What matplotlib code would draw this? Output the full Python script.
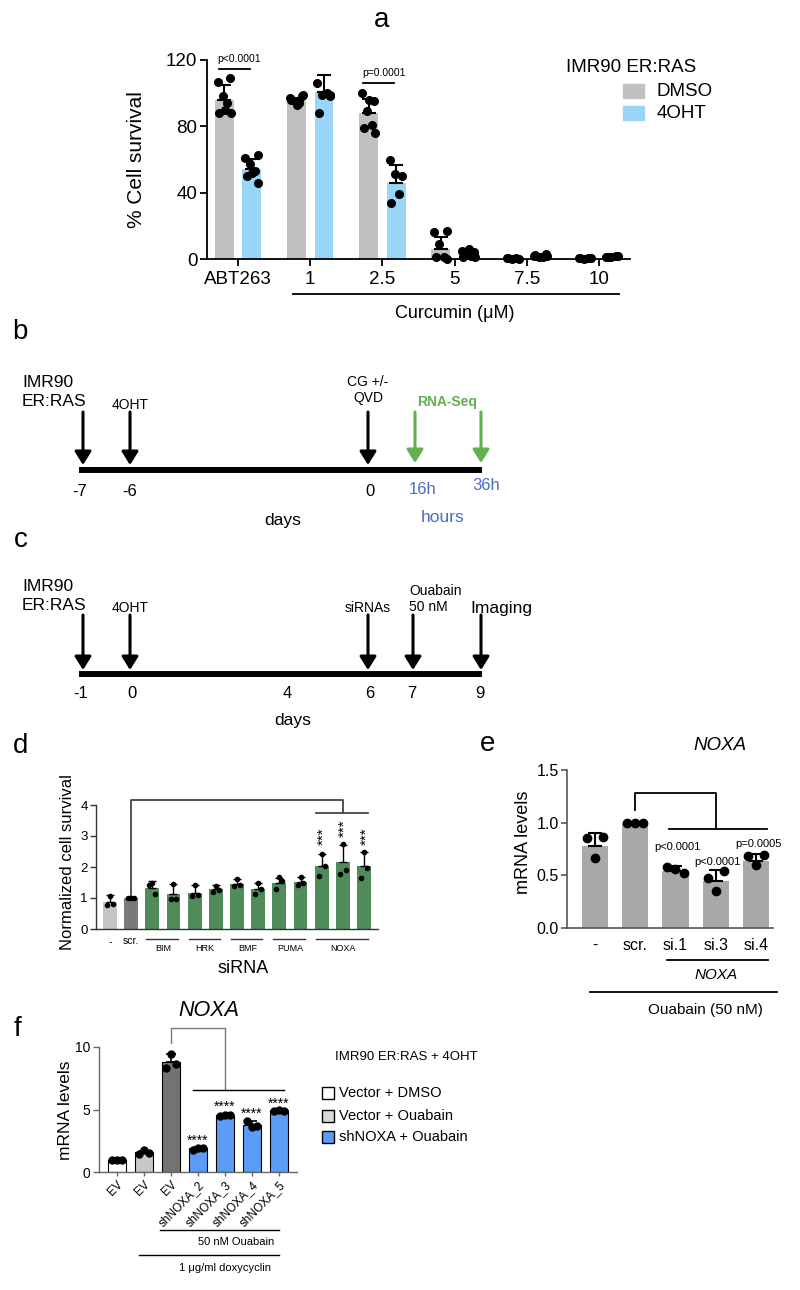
import matplotlib
matplotlib.use('Agg')
import matplotlib.pyplot as plt
from matplotlib.patches import Rectangle
import numpy as np

plt.rcParams['font.family'] = ['Liberation Sans', 'DejaVu Sans']

# ---------------- data ----------------
# panel a
a_groups = ['ABT263', '1', '2.5', '5', '7.5', '10']
a_dmso_mean = [96, 95.5, 88, 6, 0.5, 0.5]
a_dmso_sd = [9, 1.5, 8.5, 7, 0.3, 0.3]
a_4oht_mean = [54, 101, 46, 3, 2, 1.5]
a_4oht_sd = [6.5, 10, 10.5, 2, 0.8, 0.5]
a_dmso_pts = [[107, 109, 98, 94, 88, 88, 90], [97, 98, 95, 94, 96, 99, 93],
              [100, 95, 89, 81, 79, 76, 96], [16, 17, 9, 1, 1, 0],
              [0.5, 0.3, 0.2, 0.8, 0.4], [0.4, 0.6, 0.3, 0.5, 0.7]]
a_4oht_pts = [[61, 63, 57, 53, 50, 46, 52], [106, 99, 99, 100, 88, 98],
              [60, 50, 51, 39, 34], [5, 4, 3, 2, 1, 1, 6],
              [2, 3, 1.5, 1, 2.5, 2], [1.5, 2, 1, 2, 1.5]]
a_pvals = ['p<0.0001', None, 'p=0.0001', None, None, None]

# panel b timeline
b_ticks = ['-7', '-6', '0', '16h', '36h']
b_events = ['IMR90\nER:RAS', '4OHT', 'CG +/-\nQVD', '', '']

# panel c timeline
c_ticks = ['-1', '0', '4', '6', '7', '9']
c_events = ['IMR90\nER:RAS', '4OHT', '', 'siRNAs', 'Ouabain\n50 nM', 'Imaging']

# panel d
d_labels = ['-', 'scr.', 'BIM', 'BIM', 'HRK', 'HRK', 'BMF', 'BMF',
            'PUMA', 'PUMA', 'NOXA', 'NOXA', 'NOXA']
d_means = [0.87, 1.0, 1.33, 1.12, 1.17, 1.28, 1.46, 1.30, 1.48, 1.51, 2.04, 2.15, 2.03]
d_sd = [0.22, 0.0, 0.21, 0.34, 0.24, 0.13, 0.16, 0.20, 0.18, 0.16, 0.39, 0.57, 0.46]
d_pts = [[0.78, 0.82, 1.05], [1, 1, 1], [1.43, 1.13, 1.5], [0.97, 0.97, 1.46],
         [1.05, 1.1, 1.41], [1.2, 1.27, 1.4], [1.38, 1.42, 1.6], [1.13, 1.29, 1.48],
         [1.3, 1.56, 1.67], [1.41, 1.48, 1.67], [1.72, 2.02, 2.42], [1.78, 1.89, 2.74],
         [1.65, 1.97, 2.5]]
d_groups = ['BIM', 'HRK', 'BMF', 'PUMA', 'NOXA']

# panel e
e_labels = ['-', 'scr.', 'si.1', 'si.3', 'si.4']
e_means = [0.78, 1.0, 0.54, 0.45, 0.64]
e_sd = [0.12, 0.0, 0.05, 0.10, 0.06]
e_pts = [[0.85, 0.86, 0.66], [1, 1, 1], [0.58, 0.52, 0.56], [0.47, 0.54, 0.35], [0.68, 0.69, 0.60]]
e_pvals = [None, None, 'p<0.0001', 'p<0.0001', 'p=0.0005']

# panel f
f_labels = ['EV', 'EV', 'EV', 'shNOXA_2', 'shNOXA_3', 'shNOXA_4', 'shNOXA_5']
f_means = [1.0, 1.6, 8.8, 1.95, 4.53, 3.75, 4.93]
f_sd = [0.0, 0.05, 0.65, 0.05, 0.05, 0.35, 0.05]
f_pts = [[1, 1, 1], [1.45, 1.73, 1.55], [8.35, 9.41, 8.67], [1.8, 1.95, 1.95],
         [4.5, 4.6, 4.55], [4.05, 3.6, 3.65], [4.9, 4.95, 4.9]]
f_stars = [None, None, None, '****', '****', '****', '****']
f_legend = ['Vector + DMSO', 'Vector + Ouabain', 'shNOXA + Ouabain']

# ---------------- styles ----------------
C_DMSO = '#c0c0c0'
C_4OHT = '#99d4f9'
C_GREEN = '#4f8c59'
C_BLUE_TXT = '#4a6cc4'
C_ARROW_G = '#62b04f'
C_E = '#a8a8a8'
C_F = ['white', '#c8c8c8', '#737373', '#5b9cf6', '#5b9cf6', '#5b9cf6', '#5b9cf6']
C_D = ['#c4c4c4', '#7a7a7a'] + [C_GREEN] * 11
JITTER = [-0.09, 0.08, -0.02, 0.04, -0.07, 0.09, 0.01]

W, H = 800, 1290
fig = plt.figure(figsize=(8, 12.9), dpi=100)


def add_ax(x0, y0, x1, y1):
    return fig.add_axes([x0 / W, 1 - y1 / H, (x1 - x0) / W, (y1 - y0) / H])


def style(ax, color='k', lw=1.2):
    for s in ['top', 'right']:
        ax.spines[s].set_visible(False)
    for s in ['left', 'bottom']:
        ax.spines[s].set_color(color)
        ax.spines[s].set_linewidth(lw)
    ax.tick_params(colors=color, labelcolor='k', width=lw)


# ================= panel a =================
axa = add_ax(207, 60, 630, 259)
style(axa, 'k', 1.3)
xa = np.arange(len(a_groups))
off = 0.19
bw = 0.26
axa.bar(xa - off, a_dmso_mean, bw, color=C_DMSO, zorder=1)
axa.bar(xa + off, a_4oht_mean, bw, color=C_4OHT, zorder=1)
axa.errorbar(xa - off, a_dmso_mean, yerr=[np.zeros(6), a_dmso_sd], fmt='none',
             ecolor='k', elinewidth=1.5, capsize=5, capthick=1.5, zorder=2)
axa.errorbar(xa + off, a_4oht_mean, yerr=[np.zeros(6), a_4oht_sd], fmt='none',
             ecolor='k', elinewidth=1.5, capsize=5, capthick=1.5, zorder=2)
for i in range(len(a_groups)):
    for pts, sgn in [(a_dmso_pts[i], -1), (a_4oht_pts[i], 1)]:
        n = len(pts)
        jit = np.array(JITTER[:n])
        axa.plot(xa[i] + sgn * off + jit, pts, 'o', color='k', ms=5.5, zorder=3, clip_on=False)
axa.set_xlim(-0.43, 5.43)
axa.set_ylim(0, 120)
axa.set_yticks([0, 40, 80, 120])
axa.set_xticks(xa)
axa.set_xticklabels(a_groups)
axa.tick_params(axis='both', labelsize=13.5, length=5, pad=2)
axa.tick_params(axis='x', pad=4)
pv_y = [114.6, None, 106, None, None, None]
for i, p in enumerate(a_pvals):
    if p:
        axa.plot([xa[i] - 0.27, xa[i] + 0.16], [pv_y[i]] * 2, color='k', lw=1.3, clip_on=False)
        axa.text(xa[i] + 0.02, pv_y[i] + 3.2, p, ha='center', va='bottom', fontsize=7.5)
axa.plot([0.76, 5.28], [-21.1, -21.1], color='k', lw=1.3, clip_on=False)
axa.text(3.0, -32.6, 'Curcumin (\u03bcM)', ha='center', va='center', fontsize=13)

# ================= panel d =================
axd = add_ax(96, 805, 378, 929)
style(axd, '#333333', 1.0)
xd = np.arange(len(d_labels))
axd.bar(xd, d_means, 0.65, color=C_D, zorder=1)
axd.errorbar(xd, d_means, yerr=[np.zeros(len(d_sd)), d_sd], fmt='none', ecolor='k',
             elinewidth=1.0, capsize=3, capthick=1.0, zorder=2)
for i, pts in enumerate(d_pts):
    axd.plot(xd[i] + np.array([-0.14, 0.14, 0.0]), pts, 'o', color='k', ms=3, zorder=3)
axd.set_xlim(-0.66, 12.66)
axd.set_ylim(0, 4)
axd.set_yticks([0, 1, 2, 3, 4])
axd.set_xticks([])
axd.tick_params(axis='y', labelsize=9.5, length=4, pad=2)
axd.plot([1, 1, 11, 11], [1.05, 4.16, 4.16, 3.74], color='#444444', lw=1.3, clip_on=False)
axd.plot([10 - 0.28, 12 + 0.2], [3.74, 3.74], color='#444444', lw=1.3, clip_on=False)
for i in [10, 11, 12]:
    yy = 3.26 if i == 11 else 3.0
    axd.text(xd[i] + 0.1, yy, '***', rotation=90, ha='center', va='center', fontsize=11)
axd.text(0, -0.42, d_labels[0], ha='center', va='center', fontsize=7.5)
axd.text(1, -0.40, d_labels[1], ha='center', va='center', fontsize=7.5)
for g in d_groups:
    idx = [i for i, l in enumerate(d_labels) if l == g]
    axd.plot([idx[0] - 0.28, idx[-1] + 0.2], [-0.32, -0.32], color='#333333', lw=1.0, clip_on=False)
    axd.text((idx[0] + idx[-1]) / 2, -0.62, g, ha='center', va='center', fontsize=6.5)
axd.text(6.27, -1.26, 'siRNA', ha='center', va='center', fontsize=13)

# ================= panel e =================
axe = add_ax(567, 770, 773, 928)
style(axe, '#555555', 1.2)
xe = np.arange(len(e_labels))
axe.bar(xe, e_means, 0.65, color=C_E, zorder=1)
axe.errorbar(xe, e_means, yerr=[np.zeros(len(e_sd)), e_sd], fmt='none', ecolor='k',
             elinewidth=1.5, capsize=5, capthick=1.5, zorder=2)
for i, pts in enumerate(e_pts):
    axe.plot(xe[i] + np.array([-0.2, 0.2, 0.0]), pts, 'o', color='k', ms=6, zorder=3)
axe.set_xlim(-0.69, 4.42)
axe.set_ylim(0, 1.5)
axe.set_yticks([0, 0.5, 1.0, 1.5])
axe.set_yticklabels(['0.0', '0.5', '1.0', '1.5'])
axe.set_xticks(xe)
axe.set_xticklabels(e_labels)
axe.tick_params(axis='y', labelsize=11.5, length=4, pad=2)
axe.tick_params(axis='x', labelsize=11.5, length=0, pad=7)
pe_y = [None, None, 0.77, 0.63, 0.80]
for i, p in enumerate(e_pvals):
    if p:
        axe.text(xe[i] + 0.05, pe_y[i], p, ha='center', va='center', fontsize=8)
axe.plot([1, 1, 3, 3], [1.12, 1.28, 1.28, 0.94], color='k', lw=1.3, clip_on=False)
axe.plot([1.84, 4.27], [0.94, 0.94], color='k', lw=1.3, clip_on=False)
axe.plot([1.79, 4.29], [-0.30, -0.30], color='k', lw=1.3, clip_on=False)
axe.text(3.0, -0.45, 'NOXA', style='italic', ha='center', va='center', fontsize=11)
axe.plot([-0.12, 4.52], [-0.61, -0.61], color='k', lw=1.3, clip_on=False)
axe.text(2.75, -0.78, 'Ouabain (50 nM)', ha='center', va='center', fontsize=11)

# ================= panel f =================
axf = add_ax(99, 1047, 297, 1172)
style(axf, '#666666', 1.0)
xf = np.arange(len(f_labels))
axf.bar(xf, f_means, 0.65, color=C_F, edgecolor='k', linewidth=0.8, zorder=1)
axf.errorbar(xf, f_means, yerr=[np.zeros(len(f_sd)), f_sd], fmt='none', ecolor='k',
             elinewidth=1.2, capsize=3.5, capthick=1.2, zorder=2)
for i, pts in enumerate(f_pts):
    axf.plot(xf[i] + np.array([-0.2, 0.0, 0.2]), pts, 'o', color='k', ms=5, zorder=3)
axf.set_xlim(-0.67, 6.67)
axf.set_ylim(0, 10)
axf.set_yticks([0, 5, 10])
axf.set_xticks(xf)
axf.set_xticklabels(f_labels, rotation=45, ha='right', rotation_mode='anchor')
axf.tick_params(axis='y', labelsize=10, length=4, pad=2)
axf.tick_params(axis='x', labelsize=8.5, length=3, pad=2)
fs_y = [None, None, None, 2.8, 5.5, 4.96, 5.76]
for i, s in enumerate(f_stars):
    if s:
        axf.text(xf[i], fs_y[i] - 0.3, s, ha='center', va='center', fontsize=10)
axf.plot([2, 2, 4, 4], [10.3, 11.5, 11.5, 6.56], color='#777777', lw=1.0, clip_on=False)
axf.plot([2.81, 6.19], [6.56, 6.56], color='k', lw=1.0, clip_on=False)
axf.plot([1.59, 6.0], [-4.64, -4.64], color='k', lw=1.0, clip_on=False)
axf.text(4.4, -5.6, '50 nM Ouabain', ha='center', va='center', fontsize=8)
axf.plot([0.81, 6.0], [-6.64, -6.64], color='k', lw=1.0, clip_on=False)
axf.text(4.0, -7.68, '1 \u03bcg/ml doxycyclin', ha='center', va='center', fontsize=8)

# ================= overlay (schematics, labels, legends) =================
ov = fig.add_axes([0, 0, 1, 1])
ov.set_xlim(0, W)
ov.set_ylim(H, 0)
ov.axis('off')

# panel letters
for letter, (x, y) in zip('abcdef', [(382, 20), (20, 332), (21, 540), (21, 746), (488, 744), (18, 1029)]):
    ov.text(x, y, letter, ha='center', va='center', fontsize=20)

# y labels
ov.text(137, 160, '% Cell survival', rotation=90, ha='center', va='center', fontsize=15)
ov.text(67, 862, 'Normalized cell survival', rotation=90, ha='center', va='center', fontsize=12)
ov.text(524, 842, 'mRNA levels', rotation=90, ha='center', va='center', fontsize=13)
ov.text(66, 1110, 'mRNA levels', rotation=90, ha='center', va='center', fontsize=12.5)

# titles
ov.text(720, 746, 'NOXA', style='italic', ha='center', va='center', fontsize=13.5)
ov.text(209, 1010, 'NOXA', style='italic', ha='center', va='center', fontsize=15.5)

# legend a
ov.text(566, 67, 'IMR90 ER:RAS', ha='left', va='center', fontsize=13.5)
for (lab, col), yy in zip([('DMSO', C_DMSO), ('4OHT', C_4OHT)], [91, 113]):
    ov.add_patch(Rectangle((623, yy - 7), 21, 14, color=col))
    ov.text(657, yy, lab, ha='left', va='center', fontsize=13.5)

# legend f
ov.text(335, 1057, 'IMR90 ER:RAS + 4OHT', ha='left', va='center', fontsize=9.5)
for lab, col, yy in zip(f_legend, [C_F[0], '#d9d9d9', C_F[3]], [1093, 1116, 1137]):
    ov.add_patch(Rectangle((322, yy - 6), 12, 12, facecolor=col, edgecolor='k', lw=1.0))
    ov.text(339, yy, lab, ha='left', va='center', fontsize=10.5)


def arrow(x, y0, y1, color='k'):
    ov.annotate('', xy=(x, y1), xytext=(x, y0),
                arrowprops=dict(arrowstyle='-|>,head_width=0.5,head_length=0.8',
                                lw=2.2, color=color, mutation_scale=10,
                                shrinkA=0, shrinkB=0))


# panel b
b_arrow_x = [83, 130, 368, 415, 481]
b_tick_x = [80, 130, 370, 423, 486]
b_tick_y = [491, 491, 491, 489, 486]
ov.plot([79, 482], [470, 470], color='k', lw=4.3, solid_capstyle='butt')
for i, x in enumerate(b_arrow_x):
    arrow(x, 412, 465 if i < 3 else 463, 'k' if i < 3 else C_ARROW_G)
for i, t in enumerate(b_ticks):
    ov.text(b_tick_x[i], b_tick_y[i], t, ha='center', va='center', fontsize=12,
            color='k' if i < 3 else C_BLUE_TXT)
ov.text(22, 392, b_events[0], ha='left', va='center', fontsize=12.5, linespacing=1.3)
ov.text(130, 405, b_events[1], ha='center', va='center', fontsize=10)
ov.text(368, 390, b_events[2], ha='center', va='center', fontsize=10, linespacing=1.25)
ov.text(447, 402, 'RNA-Seq', ha='center', va='center', fontsize=10, fontweight='bold', color=C_ARROW_G)
ov.text(283, 520, 'days', ha='center', va='center', fontsize=12.5)
ov.text(443, 518, 'hours', ha='center', va='center', fontsize=12.5, color=C_BLUE_TXT)

# panel c
c_arrow_x = [83, 130, None, 368, 413, 481]
c_tick_x = [81, 132, 287, 370, 412, 480]
ov.plot([79, 482], [674, 674], color='k', lw=4.3, solid_capstyle='butt')
for x in c_arrow_x:
    if x is not None:
        arrow(x, 615, 670)
for i, t in enumerate(c_ticks):
    ov.text(c_tick_x[i], 694, t, ha='center', va='center', fontsize=12)
ov.text(22, 596, c_events[0], ha='left', va='center', fontsize=12.5, linespacing=1.3)
ov.text(130, 608, c_events[1], ha='center', va='center', fontsize=10)
ov.text(368, 608, c_events[3], ha='center', va='center', fontsize=10)
ov.text(409, 599, c_events[4], ha='left', va='center', fontsize=10, linespacing=1.25)
ov.text(470, 608, c_events[5], ha='left', va='center', fontsize=12.5)
ov.text(293, 720, 'days', ha='center', va='center', fontsize=12.5)

fig.savefig('out.png', dpi=100)
